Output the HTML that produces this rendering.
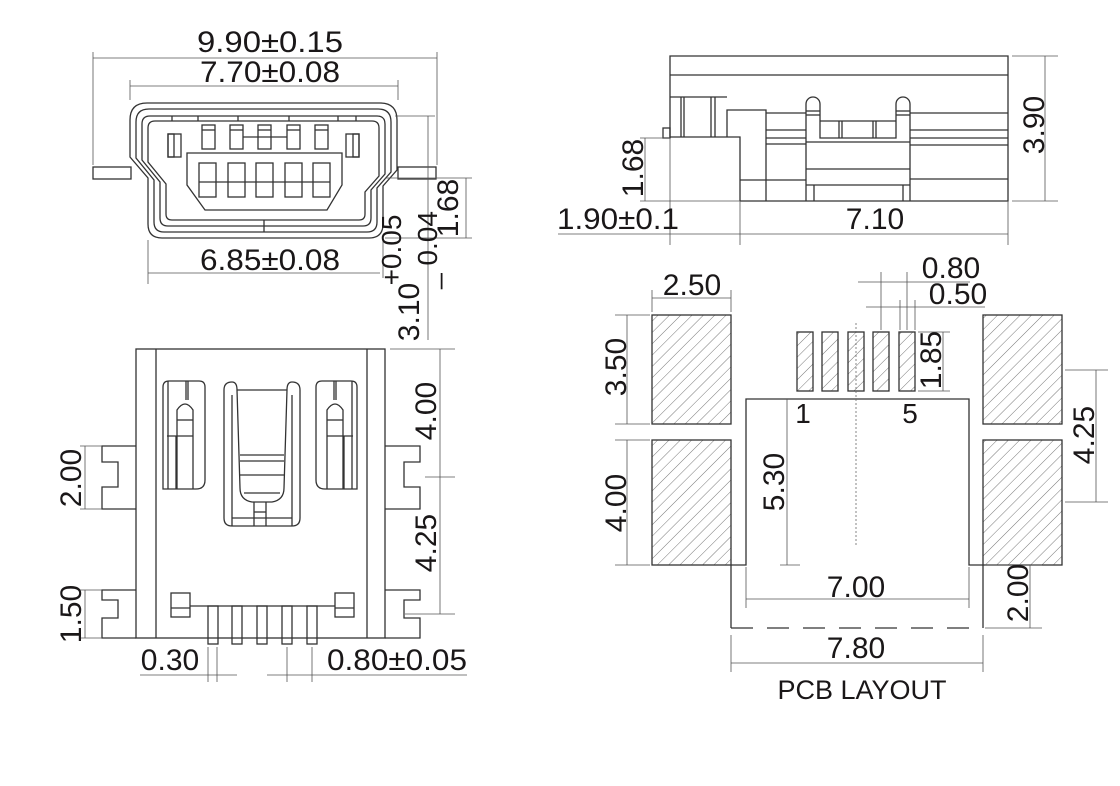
<!DOCTYPE html>
<html><head><meta charset="utf-8"><style>
html,body{margin:0;padding:0;background:#fff}
svg{display:block}
text{font-family:"Liberation Sans",sans-serif;fill:#1a1718}
</style></head><body>
<svg width="1120" height="786" viewBox="0 0 1120 786" xmlns="http://www.w3.org/2000/svg">
<defs>
<pattern id="h" patternUnits="userSpaceOnUse" width="8" height="8" patternTransform="rotate(45)">
<line x1="0" y1="0" x2="0" y2="8" stroke="#555" stroke-width="0.8"/>
</pattern>
</defs>
<g fill="none" stroke="#333" stroke-width="1.3">
<rect x="93" y="167" width="38" height="12"/>
<rect x="398" y="167" width="38" height="12"/>
<path d="M148 224 Q148 238 162 238 L369 238 Q383 238 383 224 L383 186 L397 170 L397 120 Q397 103 380 103 L147 103 Q130 103 130 120 L130 157 L148 178 Z"/>
<path d="M154 222 Q154 232 164 232 L367 232 Q377 232 377 222 L377 188 L391 172 L391 122 Q391 109 378 109 L149 109 Q136 109 136 122 L136 158 L154 180 Z"/>
<path d="M160 218 Q160 226 168 226 L363 226 Q371 226 371 218 L371 190 L385 174 L385 124 Q385 116 377 116 L150 116 Q142 116 142 124 L142 160 L160 182 Z"/>
<path d="M166 214 Q166 220 172 220 L359 220 Q365 220 365 214 L365 192 L379 176 L379 128 Q379 121 372 121 L155 121 Q148 121 148 128 L148 162 L166 184 Z"/>
<line x1="264" y1="220" x2="264" y2="232"/>
<line x1="172" y1="116" x2="172" y2="121"/><line x1="198" y1="116" x2="198" y2="121"/><line x1="238" y1="116" x2="238" y2="121"/>
<line x1="289" y1="116" x2="289" y2="121"/><line x1="338" y1="116" x2="338" y2="121"/><line x1="356" y1="116" x2="356" y2="121"/>
<path d="M187 153 L342 153 L342 185 L327 210 L205 210 L187 185 Z"/>
<rect x="168" y="134" width="13" height="23"/><rect x="346" y="134" width="13" height="23"/>
<rect x="168" y="134" width="6" height="23"/><rect x="353" y="134" width="6" height="23"/>
<rect x="202" y="125" width="13" height="24"/><rect x="230" y="125" width="13" height="24"/><rect x="258" y="125" width="13" height="24"/><rect x="287" y="125" width="13" height="24"/><rect x="315" y="125" width="13" height="24"/>
<line x1="202" y1="130" x2="215" y2="130"/><line x1="230" y1="130" x2="243" y2="130"/><line x1="258" y1="130" x2="271" y2="130"/><line x1="287" y1="130" x2="300" y2="130"/><line x1="315" y1="130" x2="328" y2="130"/>
<line x1="243" y1="137" x2="287" y2="137"/>
<rect x="199" y="163" width="17" height="34"/><rect x="228" y="163" width="17" height="34"/><rect x="256" y="163" width="17" height="34"/><rect x="285" y="163" width="17" height="34"/><rect x="313" y="163" width="17" height="34"/>
<line x1="199" y1="182" x2="330" y2="182"/>
</g>
<g fill="none" stroke="#555" stroke-width="0.8">
<line x1="93" y1="58" x2="437" y2="58"/><line x1="93" y1="52" x2="93" y2="165"/><line x1="437" y1="52" x2="437" y2="165"/>
<line x1="130" y1="86" x2="398" y2="86"/><line x1="130" y1="80" x2="130" y2="100"/><line x1="398" y1="80" x2="398" y2="100"/>
<line x1="148" y1="273" x2="380" y2="273"/><line x1="148" y1="240" x2="148" y2="284"/><line x1="383" y1="240" x2="383" y2="278"/>
<line x1="395" y1="116" x2="435" y2="116"/><line x1="428" y1="116" x2="428" y2="340"/>
<line x1="385" y1="178" x2="472" y2="178"/><line x1="385" y1="238" x2="472" y2="238"/><line x1="466" y1="178" x2="466" y2="238"/>
</g>
<text x="270" y="52" font-size="30" text-anchor="middle" textLength="146" lengthAdjust="spacingAndGlyphs">9.90±0.15</text>
<text x="270" y="82" font-size="30" text-anchor="middle" textLength="140" lengthAdjust="spacingAndGlyphs">7.70±0.08</text>
<text x="270" y="270" font-size="30" text-anchor="middle" textLength="140" lengthAdjust="spacingAndGlyphs">6.85±0.08</text>
<text transform="translate(466,208) rotate(-90)" font-size="30" text-anchor="middle" y="-8">1.68</text>
<text transform="translate(419,312) rotate(-90)" font-size="30" text-anchor="middle">3.10</text>
<text transform="translate(401,250) rotate(-90)" font-size="28" text-anchor="middle">+0.05</text>
<text transform="translate(437,250) rotate(-90)" font-size="28" text-anchor="middle">_ 0.04</text>

<g fill="none" stroke="#333" stroke-width="1.3">
<rect x="136" y="349" width="249" height="289"/>
<line x1="156" y1="349" x2="156" y2="638"/><line x1="367" y1="349" x2="367" y2="638"/>
<path d="M136 446 L102 446 L102 462 L118 462 L118 487 L102 487 L102 509 L136 509"/>
<path d="M136 590 L102 590 L102 600 L118 600 L118 618 L102 618 L102 638 L136 638"/>
<path d="M385 446 L420 446 L420 462 L404 462 L404 487 L420 487 L420 509 L385 509"/>
<path d="M385 590 L420 590 L420 600 L404 600 L404 618 L420 618 L420 638 L385 638"/>
<path d="M163 489 L163 387 Q163 381 169 381 L199 381 Q205 381 205 387 L205 480 Q205 489 196 489 Z"/>
<line x1="168" y1="381" x2="168" y2="489"/><line x1="176" y1="436" x2="176" y2="489"/>
<path d="M177 489 L177 410 Q185 398 193 410 L193 489"/><line x1="177" y1="420" x2="193" y2="420"/><line x1="167" y1="436" x2="193" y2="436"/>
<line x1="186" y1="381" x2="186" y2="400"/><line x1="188" y1="381" x2="188" y2="400"/>
<path d="M357 489 L357 387 Q357 381 351 381 L322 381 Q316 381 316 387 L316 480 Q316 489 325 489 Z"/>
<line x1="352" y1="381" x2="352" y2="489"/><line x1="344" y1="436" x2="344" y2="489"/>
<path d="M327 489 L327 410 Q335 398 343 410 L343 489"/><line x1="327" y1="420" x2="343" y2="420"/><line x1="327" y1="436" x2="353" y2="436"/>
<line x1="334" y1="381" x2="334" y2="400"/><line x1="336" y1="381" x2="336" y2="400"/>
<path d="M224 518 L224 390 Q224 382 232 382 Q237 382 237 390 L240 488 Q240 500 252 502 L272 502 Q284 500 284 488 L287 390 Q287 382 292 382 Q300 382 300 390 L300 518 Q300 526 292 526 L232 526 Q224 526 224 518 Z"/>
<line x1="237" y1="390" x2="287" y2="390"/><line x1="232" y1="395" x2="232" y2="526"/><line x1="292" y1="395" x2="292" y2="526"/>
<line x1="240" y1="455" x2="284" y2="455"/><line x1="240" y1="461" x2="284" y2="461"/><line x1="240" y1="475" x2="284" y2="475"/>
<line x1="244" y1="493" x2="280" y2="493"/>
<line x1="254" y1="502" x2="254" y2="526"/><line x1="266" y1="502" x2="266" y2="526"/><line x1="254" y1="512" x2="266" y2="512"/>
<line x1="232" y1="518" x2="292" y2="518"/>
<line x1="190" y1="606" x2="335" y2="606"/>
<rect x="208" y="606" width="10" height="38"/><rect x="232" y="606" width="10" height="38"/><rect x="257" y="606" width="10" height="38"/><rect x="282" y="606" width="10" height="38"/><rect x="307" y="606" width="10" height="38"/>
<rect x="171" y="593" width="19" height="24"/><line x1="171" y1="608" x2="190" y2="608"/>
<rect x="335" y="593" width="19" height="24"/><line x1="335" y1="608" x2="354" y2="608"/>
</g>
<g fill="none" stroke="#555" stroke-width="0.8">
<line x1="80" y1="446" x2="102" y2="446"/><line x1="80" y1="509" x2="102" y2="509"/><line x1="85" y1="446" x2="85" y2="509"/>
<line x1="80" y1="590" x2="102" y2="590"/><line x1="80" y1="638" x2="102" y2="638"/><line x1="85" y1="590" x2="85" y2="638"/>
<line x1="390" y1="349" x2="455" y2="349"/><line x1="425" y1="477" x2="455" y2="477"/><line x1="405" y1="614" x2="455" y2="614"/><line x1="440" y1="349" x2="440" y2="614"/>
<line x1="208" y1="647" x2="208" y2="682"/><line x1="217" y1="647" x2="217" y2="682"/><line x1="140" y1="675" x2="237" y2="675"/>
<line x1="287" y1="647" x2="287" y2="682"/><line x1="312" y1="647" x2="312" y2="682"/><line x1="267" y1="675" x2="467" y2="675"/>
</g>
<text transform="translate(70,478) rotate(-90)" font-size="30" text-anchor="middle" dy="11">2.00</text>
<text transform="translate(70,614) rotate(-90)" font-size="30" text-anchor="middle" dy="11">1.50</text>
<text transform="translate(425,411) rotate(-90)" font-size="30" text-anchor="middle" dy="11">4.00</text>
<text transform="translate(425,543) rotate(-90)" font-size="30" text-anchor="middle" dy="11">4.25</text>
<text x="170" y="670" font-size="30" text-anchor="middle">0.30</text>
<text x="397" y="670" font-size="30" text-anchor="middle" textLength="140" lengthAdjust="spacingAndGlyphs">0.80±0.05</text>

<g fill="none" stroke="#333" stroke-width="1.3">
<path d="M670 138 L670 56 L1008 56 L1008 201 L740 201"/>
<line x1="670" y1="75" x2="1008" y2="75"/>
<rect x="663" y="128" width="7" height="10"/>
<path d="M670 97 L727 97 M670 137 L740 137 L740 201"/>
<line x1="681" y1="97" x2="681" y2="137"/><line x1="684" y1="97" x2="684" y2="137"/><line x1="711" y1="97" x2="711" y2="137"/><line x1="715" y1="97" x2="715" y2="137"/>
<path d="M727 137 L727 110 L766 110 L766 201"/>
<line x1="740" y1="180" x2="806" y2="180"/>
<line x1="766" y1="113" x2="806" y2="113"/><line x1="766" y1="130" x2="806" y2="130"/><line x1="766" y1="138" x2="806" y2="138"/><line x1="766" y1="144" x2="806" y2="144"/>
<path d="M806 201 L806 104 A7 7 0 0 1 820 104 L820 138 L896 138 L896 104 A7 7 0 0 1 910 104 L910 201"/>
<line x1="806" y1="111" x2="820" y2="111"/><line x1="806" y1="115" x2="820" y2="115"/><line x1="896" y1="111" x2="910" y2="111"/><line x1="896" y1="115" x2="910" y2="115"/>
<line x1="820" y1="121" x2="896" y2="121"/>
<line x1="839" y1="121" x2="839" y2="138"/><line x1="842" y1="121" x2="842" y2="138"/><line x1="873" y1="121" x2="873" y2="138"/><line x1="876" y1="121" x2="876" y2="138"/>
<line x1="806" y1="142" x2="910" y2="142"/><line x1="806" y1="169" x2="910" y2="169"/><line x1="806" y1="185" x2="910" y2="185"/>
<line x1="814" y1="185" x2="814" y2="201"/><line x1="903" y1="185" x2="903" y2="201"/>
<line x1="910" y1="113" x2="1008" y2="113"/><line x1="910" y1="130" x2="1008" y2="130"/><line x1="910" y1="138" x2="1008" y2="138"/><line x1="910" y1="145" x2="1008" y2="145"/><line x1="910" y1="179" x2="1008" y2="179"/>
</g>
<g fill="none" stroke="#555" stroke-width="0.8">
<line x1="1012" y1="56" x2="1058" y2="56"/><line x1="1012" y1="201" x2="1058" y2="201"/><line x1="1045" y1="56" x2="1045" y2="201"/>
<line x1="640" y1="138" x2="670" y2="138"/><line x1="640" y1="201" x2="740" y2="201"/><line x1="645" y1="138" x2="645" y2="201"/>
<line x1="670" y1="138" x2="670" y2="245"/><line x1="740" y1="201" x2="740" y2="245"/><line x1="1008" y1="201" x2="1008" y2="245"/>
<line x1="558" y1="234" x2="1008" y2="234"/>
</g>
<text transform="translate(1033,125) rotate(-90)" font-size="30" text-anchor="middle" dy="11">3.90</text>
<text transform="translate(632,168) rotate(-90)" font-size="30" text-anchor="middle" dy="11">1.68</text>
<text x="618" y="229" font-size="30" text-anchor="middle" textLength="122" lengthAdjust="spacingAndGlyphs">1.90±0.1</text>
<text x="875" y="229" font-size="30" text-anchor="middle">7.10</text>

<g stroke="#333" stroke-width="1.3" fill="url(#h)">
<rect x="652" y="315" width="79" height="109"/><rect x="652" y="440" width="79" height="125"/>
<rect x="983" y="315" width="79" height="109"/><rect x="983" y="440" width="79" height="125"/>
<rect x="797" y="332" width="16" height="59"/><rect x="822" y="332" width="16" height="59"/><rect x="848" y="332" width="16" height="59"/><rect x="873" y="332" width="16" height="59"/><rect x="899" y="332" width="16" height="59"/>
</g>
<g fill="none" stroke="#333" stroke-width="1.3">
<path d="M731 565 L746 565 L746 399 L969 399 L969 565 L983 565"/>
<line x1="731" y1="565" x2="731" y2="628"/><line x1="983" y1="565" x2="983" y2="628"/>
<line x1="731" y1="628" x2="983" y2="628" stroke-dasharray="22 14"/>
</g>
<line x1="856" y1="323" x2="856" y2="547" stroke="#666" stroke-width="0.8" stroke-dasharray="2 2"/>
<g fill="none" stroke="#555" stroke-width="0.8">
<line x1="652" y1="290" x2="652" y2="312"/><line x1="731" y1="290" x2="731" y2="312"/><line x1="652" y1="298" x2="731" y2="298"/>
<line x1="615" y1="315" x2="650" y2="315"/><line x1="615" y1="424" x2="650" y2="424"/><line x1="627" y1="315" x2="627" y2="424"/>
<line x1="615" y1="440" x2="650" y2="440"/><line x1="615" y1="565" x2="650" y2="565"/><line x1="627" y1="440" x2="627" y2="565"/>
<line x1="787" y1="399" x2="787" y2="565"/><line x1="780" y1="565" x2="800" y2="565"/>
<line x1="746" y1="567" x2="746" y2="608"/><line x1="969" y1="567" x2="969" y2="608"/><line x1="746" y1="599" x2="969" y2="599"/>
<line x1="731" y1="635" x2="731" y2="672"/><line x1="983" y1="635" x2="983" y2="672"/><line x1="731" y1="663" x2="983" y2="663"/>
<line x1="985" y1="565" x2="1042" y2="565"/><line x1="985" y1="628" x2="1042" y2="628"/><line x1="1030" y1="565" x2="1030" y2="628"/>
<line x1="1065" y1="370" x2="1108" y2="370"/><line x1="1065" y1="502" x2="1108" y2="502"/><line x1="1096" y1="370" x2="1096" y2="502"/>
<line x1="918" y1="332" x2="950" y2="332"/><line x1="918" y1="391" x2="950" y2="391"/><line x1="943" y1="332" x2="943" y2="391"/>
<line x1="881" y1="272" x2="881" y2="330"/><line x1="907" y1="272" x2="907" y2="330"/><line x1="858" y1="282" x2="970" y2="282"/>
<line x1="900" y1="300" x2="900" y2="330"/><line x1="915" y1="300" x2="915" y2="330"/><line x1="866" y1="307" x2="985" y2="307"/>
</g>
<text x="692" y="295" font-size="30" text-anchor="middle">2.50</text>
<text x="951" y="278" font-size="30" text-anchor="middle">0.80</text>
<text x="958" y="304" font-size="30" text-anchor="middle">0.50</text>
<text transform="translate(615,367) rotate(-90)" font-size="30" text-anchor="middle" dy="11">3.50</text>
<text transform="translate(615,503) rotate(-90)" font-size="30" text-anchor="middle" dy="11">4.00</text>
<text transform="translate(773,482) rotate(-90)" font-size="30" text-anchor="middle" dy="11">5.30</text>
<text transform="translate(930,360) rotate(-90)" font-size="30" text-anchor="middle" dy="11">1.85</text>
<text transform="translate(1083,435) rotate(-90)" font-size="30" text-anchor="middle" dy="11">4.25</text>
<text transform="translate(1017,593) rotate(-90)" font-size="30" text-anchor="middle" dy="11">2.00</text>
<text x="803" y="423" font-size="28" text-anchor="middle">1</text>
<text x="910" y="423" font-size="28" text-anchor="middle">5</text>
<text x="856" y="597" font-size="30" text-anchor="middle">7.00</text>
<text x="856" y="658" font-size="30" text-anchor="middle">7.80</text>
<text x="862" y="699" font-size="27" text-anchor="middle">PCB LAYOUT</text>
</svg>
</body></html>
